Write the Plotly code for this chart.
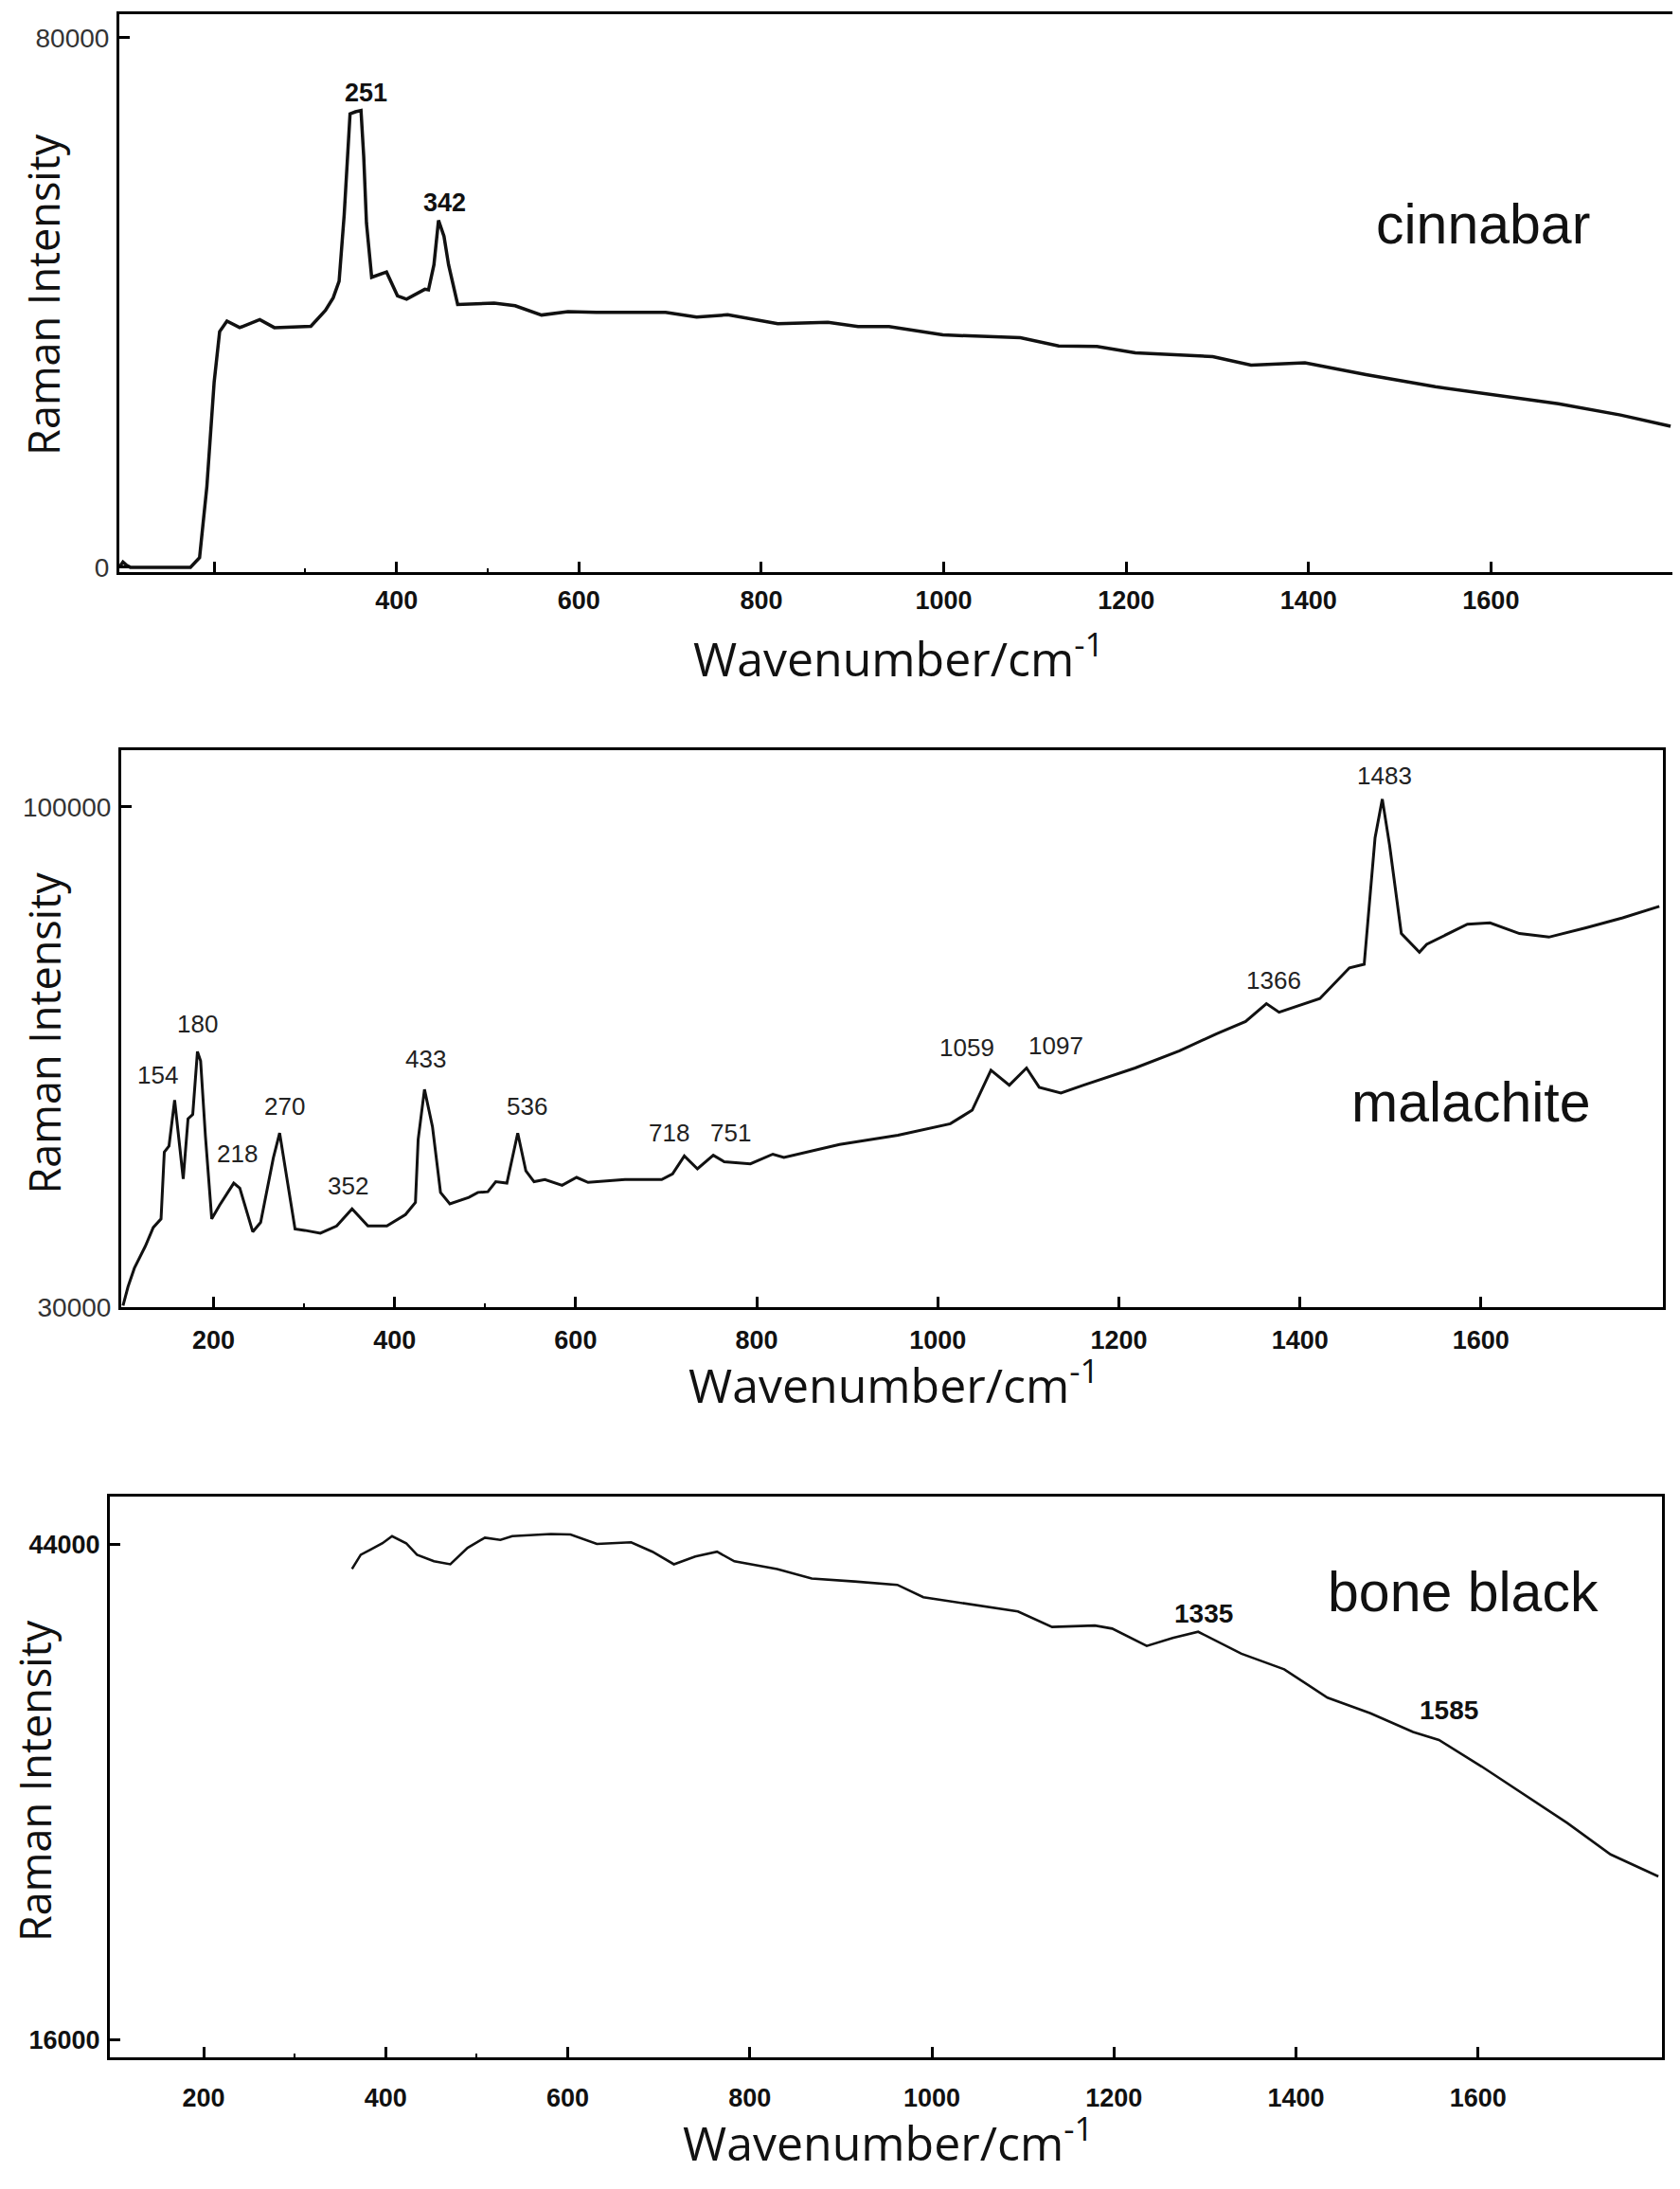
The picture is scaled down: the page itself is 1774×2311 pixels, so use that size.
import plotly.graph_objects as go

W, H = 1774, 2311

# ---------------- data ----------------
cin_wn = [97, 100, 104, 108, 140, 174, 184, 192, 200, 206, 214, 228, 250, 266, 306, 322, 330.5, 337, 342.6,
          349, 355, 361, 364, 367, 372.7, 389, 401, 411, 431, 435, 441, 446, 452, 457, 467, 507, 530, 559,
          588, 619, 695, 729, 763, 818, 873, 906, 940, 999, 1084, 1126, 1168, 1210, 1295, 1337, 1396,
          1463, 1539, 1590, 1674, 1742, 1797]
cin_int = [200, 800, 300, 0, 0, 0, 1450, 12200, 28000, 35600, 37200, 36200, 37400, 36200, 36400, 38800, 40700,
           43200, 53300, 68500, 68800, 69000, 62000, 52000, 43800, 44600, 41000, 40500, 42000, 41900, 45700,
           52400, 50000, 45700, 39700, 39900, 39500, 38100, 38600, 38500, 38500, 37800, 38140, 36800, 37000,
           36370, 36370, 35100, 34670, 33420, 33360, 32400, 31830, 30540, 30900, 29100, 27270, 26300, 24700,
           23000, 21300]

mal_wn = [100, 105.5, 112.5, 124.7, 133.4, 142, 145.6, 150.8, 157, 161, 166.5, 171.8, 177, 182.2, 185.7, 191,
          198, 206.6, 222.3, 229, 243.3, 252, 266, 273, 280, 290, 300.6, 318, 336, 353, 370.5, 391.4, 412,
          423, 426, 433, 441.8, 450.7, 461, 482, 492, 503, 511.7, 524, 536, 545, 554, 566, 585, 601, 613.7,
          654.5, 695, 707, 720, 734.5, 752, 764, 793, 817.8, 830, 891.5, 956, 1013.8, 1038, 1048, 1058.7,
          1079, 1098, 1112, 1136, 1161, 1218, 1267, 1308, 1340, 1363, 1377, 1422, 1454.7, 1471, 1483, 1491,
          1499, 1512, 1532, 1540, 1585, 1610, 1642.5, 1675, 1716, 1756.5, 1797]
mal_int = [30260, 32900, 35500, 38600, 41200, 42400, 51750, 52600, 59000, 54000, 48000, 56400, 57000, 65800,
           64500, 54000, 42400, 44300, 47400, 46700, 40600, 41900, 50900, 54400, 49100, 41000, 40800, 40400,
           41400, 43800, 41400, 41400, 43000, 44700, 53500, 60500, 55300, 46100, 44500, 45400, 46100, 46200,
           47600, 47400, 54400, 49100, 47600, 47900, 47100, 48200, 47500, 47900, 47900, 48700, 51200, 49400,
           51300, 50400, 50100, 51450, 51000, 52800, 54100, 55700, 57600, 60300, 63200, 61100, 63500, 60800,
           60000, 61100, 63500, 65900, 68300, 70000, 72500, 71300, 73200, 77500, 78000, 95700, 101100, 94700,
           82300, 79700, 80800, 83600, 83800, 82300, 81800, 83100, 84500, 86100]

bone_wn = [363, 372.6, 382.6, 396.5, 407, 422.5, 434.4, 453, 471, 490, 509, 526, 539, 581.5, 603, 632, 669.6,
           693, 716.6, 740, 764, 783, 830, 868, 915, 962, 990.6, 1047, 1094.5, 1132, 1179, 1198, 1236, 1264.5,
           1292.5, 1340, 1387, 1434.5, 1481.7, 1528.5, 1557, 1604, 1651, 1698, 1745.5, 1798]
bone_int = [42600, 43400, 43670, 44050, 44450, 44050, 43400, 43030, 42860, 43790, 44360, 44240, 44450, 44570,
            44540, 44010, 44100, 43570, 42860, 43300, 43570, 43030, 42590, 42060, 41890, 41700, 41000, 40560,
            40200, 39320, 39400, 39230, 38250, 38700, 39050, 37810, 36930, 35330, 34450, 33390, 32940, 31440,
            29850, 28250, 26480, 25240]

x_tick_vals = [200, 400, 600, 800, 1000, 1200, 1400, 1600]
cin_tick_text = [" ", "400", "600", "800", "1000", "1200", "1400", "1600"]
other_tick_text = ["200", "400", "600", "800", "1000", "1200", "1400", "1600"]
cin_y_ticks = [0, 80000]
mal_y_ticks = [30000, 100000]
bone_y_ticks = [16000, 44000]

cin_peaks = ["251", "342"]
mal_peaks = ["154", "180", "218", "270", "352", "433", "536", "718", "751", "1059", "1097", "1366", "1483"]
bone_peaks = ["1335", "1585"]
sample_names = ["cinnabar", "malachite", "bone black"]
x_title = "Wavenumber/cm<sup>-1</sup>"
y_title = "Raman Intensity"

# ---------------- layout helpers ----------------
def px(x, y):
    return x / W, 1 - y / H

ARIAL = "Liberation Sans, Arial, sans-serif"
NARROW = "Liberation Sans Narrow, Arial Narrow, Liberation Sans, sans-serif"
TITLE_FONT = "Open Sans, DejaVu Sans, sans-serif"

fig = go.Figure()
fig.add_trace(go.Scatter(x=cin_wn, y=cin_int, mode="lines", line=dict(color="#111", width=3.5),
                         xaxis="x", yaxis="y", showlegend=False))
fig.add_trace(go.Scatter(x=mal_wn, y=mal_int, mode="lines", line=dict(color="#111", width=3),
                         xaxis="x2", yaxis="y2", showlegend=False))
fig.add_trace(go.Scatter(x=bone_wn, y=bone_int, mode="lines", line=dict(color="#111", width=2.6),
                         xaxis="x3", yaxis="y3", showlegend=False))

def xax(dom, rng, ticktext, anchor, font, standoff):
    return dict(domain=dom, range=rng, anchor=anchor, showline=True, linecolor="black", linewidth=3,
                mirror=True, ticks="inside", ticklen=11, tickwidth=3, tickcolor="black",
                tickvals=x_tick_vals, ticktext=ticktext, tickfont=font, showgrid=False, zeroline=False,
                ticklabelstandoff=standoff,
                minor=dict(tickvals=[300, 500], ticks="inside", ticklen=4, tickwidth=2, tickcolor="black"))

def yax(dom, rng, tickvals, anchor, font):
    return dict(domain=dom, range=rng, anchor=anchor, showline=True, linecolor="black", linewidth=3,
                mirror=True, ticks="inside", ticklen=11, tickwidth=3, tickcolor="black",
                tickvals=tickvals, ticktext=[str(v) for v in tickvals], tickfont=font,
                showgrid=False, zeroline=False, ticklabelstandoff=2)

bold_tick = dict(family=ARIAL, size=27, color="#111", weight="bold")
reg_tick = dict(family=ARIAL, size=28, color="#333")

layout = dict(
    width=W, height=H, autosize=False, margin=dict(l=0, r=0, t=0, b=0),
    paper_bgcolor="white", plot_bgcolor="white",
    xaxis=xax([118 / W, 1758 / W], [96, 1799], cin_tick_text, "y", bold_tick, 4),
    yaxis=yax([1 - 600 / H, 1 - 7 / H], [-710, 83550], cin_y_ticks, "x", reg_tick),
    xaxis2=xax([120 / W, 1748 / W], [98, 1801], other_tick_text, "y2", bold_tick, 8),
    yaxis2=yax([1 - 1382 / H, 1 - 789 / H], [30000, 108000], mal_y_ticks, "x2", reg_tick),
    xaxis3=xax([108 / W, 1747 / W], [97, 1802], other_tick_text, "y3", bold_tick, 17),
    yaxis3=yax([1 - 2178.6 / H, 1 - 1583 / H], [15050, 46680], bone_y_ticks, "x3", bold_tick),
)
fig.update_layout(**layout)

ann = []
def add_text(text, x, y, font, angle=0, yanchor="middle", xanchor="center"):
    X, Y = px(x, y)
    ann.append(dict(text=text, x=X, y=Y, xref="paper", yref="paper", showarrow=False,
                    font=font, textangle=angle, xanchor=xanchor, yanchor=yanchor))

# axis titles
tfont = dict(family=TITLE_FONT, size=50, color="#111")
for cx, by in [(941, 715), (936, 1487), (930, 2293)]:
    add_text(x_title, cx, by + 13, tfont, yanchor="bottom")
yfont = dict(family=TITLE_FONT, size=45, color="#111")
for cx, cy in [(38, 305), (38, 1090), (29, 1885)]:
    add_text(y_title, cx, cy, yfont, angle=-90)

# sample names
nfont = dict(family=ARIAL, size=59, color="#111")
for name, (cx, cy) in zip(sample_names, [(1558, 231), (1545, 1164), (1537, 1685)]):
    add_text(name, cx, cy, nfont)

# peak labels
cb = dict(family=ARIAL, size=27, color="#111", weight="bold")
for t, (cx, cy) in zip(cin_peaks, [(378, 91), (461, 207)]):
    add_text(t, cx, cy, cb)
mfont = dict(family=ARIAL, size=26, color="#222")
mal_pos = [(158, 1135), (200, 1080), (242, 1218), (292, 1168), (359, 1253), (441, 1118), (548, 1168),
           (698, 1196), (763, 1196), (1013, 1106), (1107, 1104), (1337, 1034), (1454, 817)]
for t, (cx, cy) in zip(mal_peaks, mal_pos):
    add_text(t, cx, cy, mfont)
bfont = dict(family=NARROW, size=28, color="#111", weight="bold")
for t, (cx, cy) in zip(bone_peaks, [(1263, 1707), (1522, 1810)]):
    add_text(t, cx, cy, bfont)

fig.update_layout(annotations=ann)
fig.write_html("out.html")
